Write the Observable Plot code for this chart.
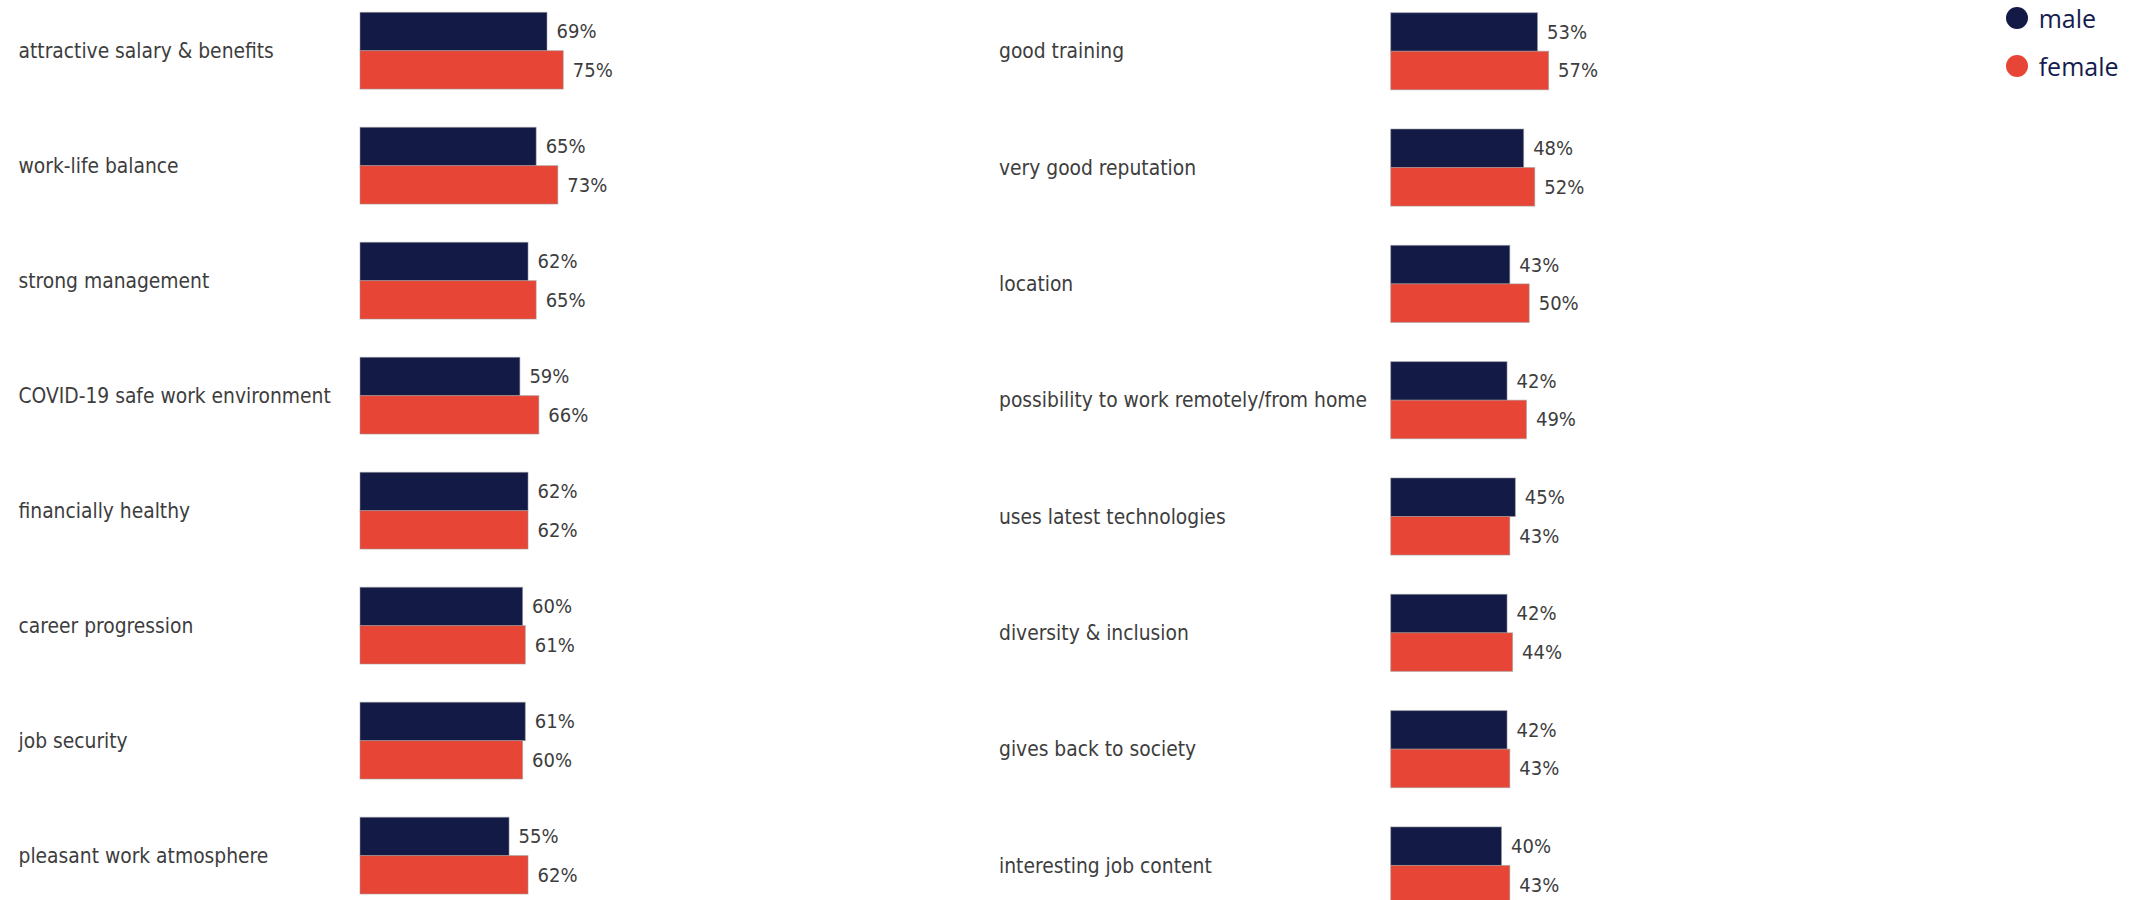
<!DOCTYPE html>
<html>
<head>
<meta charset="utf-8">
<script src="https://cdn.jsdelivr.net/npm/d3@7"></script>
<script src="https://cdn.jsdelivr.net/npm/@observablehq/plot@0.6"></script>
<style>
  html, body { margin: 0; padding: 0; background: #fff; overflow: hidden; }
  #wrap { position: relative; width: 2136px; height: 900px; overflow: hidden; background: #fff; }
  .panel { position: absolute; top: 0; }
  #legend { position: absolute; left: 0; top: 0; font-family: "Open Sans", "Noto Sans", sans-serif; font-size: 25px; color: #141b4d; }
  .item { position: absolute; display: flex; align-items: center; height: 35px; white-space: nowrap; }
  .dot { display: inline-block; width: 22px; height: 22px; border-radius: 50%; }
  .lab { margin-left: 11px; }
</style>
</head>
<body>
<div id="wrap">
  <div id="left" class="panel" style="left:0px"></div>
  <div id="right" class="panel" style="left:980px"></div>
  <div id="legend"></div>
</div>
<script>
// ---- data ----
const sexes = ["male", "female"];
const sexColors = ["#131a46", "#e74536"];

const leftCategories = [
  "attractive salary & benefits",
  "work-life balance",
  "strong management",
  "COVID-19 safe work environment",
  "financially healthy",
  "career progression",
  "job security",
  "pleasant work atmosphere"
];
const leftMale   = [69, 65, 62, 59, 62, 60, 61, 55];
const leftFemale = [75, 73, 65, 66, 62, 61, 60, 62];

const rightCategories = [
  "good training",
  "very good reputation",
  "location",
  "possibility to work remotely/from home",
  "uses latest technologies",
  "diversity & inclusion",
  "gives back to society",
  "interesting job content"
];
const rightMale   = [53, 48, 43, 42, 45, 42, 42, 40];
const rightFemale = [57, 52, 50, 49, 43, 44, 43, 43];

// ---- drawing ----
const FONT = "'DejaVu Sans Condensed', 'DejaVu Sans', sans-serif";
const TEXT = "#3d3d3d";

function panel(cats, male, female, cfg) {
  const rows = cats.flatMap((c, i) => [
    {cat: c, sex: "male", value: male[i]},
    {cat: c, sex: "female", value: female[i]}
  ]);
  const p = 1 - (2 * cfg.barH) / cfg.pitch;
  const height = Math.ceil(cfg.top + cfg.pitch * (cats.length - p));
  return Plot.plot({
    width: cfg.width,
    height,
    marginTop: cfg.top,
    marginBottom: 0,
    marginLeft: 0,
    marginRight: 0,
    x: {domain: [0, 100], range: [cfg.x0, cfg.x0 + 100 * cfg.k], axis: null},
    y: {domain: sexes, padding: 0, axis: null, round: false},
    fy: {domain: cats, paddingInner: p, paddingOuter: 0, axis: null, round: false},
    color: {domain: sexes, range: sexColors},
    style: {fontFamily: FONT, background: "transparent", overflow: "visible"},
    marks: [
      Plot.barX(rows, {x: "value", y: "sex", fy: "cat", fill: "sex",
        stroke: "#9a9a9a", strokeWidth: 1, strokeOpacity: 0.55}),
      Plot.text(rows, {x: "value", y: "sex", fy: "cat", text: d => d.value + "%",
        dx: 9, textAnchor: "start", fill: TEXT, fontSize: 20}),
      Plot.text(cats, {fy: d => d, text: d => d, frameAnchor: "left",
        dx: cfg.labelX, textAnchor: "start", fill: TEXT, fontSize: 20.8})
    ]
  });
}

document.getElementById("left").append(panel(leftCategories, leftMale, leftFemale,
  {width: 980, top: 12.3, pitch: 114.9, barH: 38.35, x0: 360, k: 2.71, labelX: 18}));
document.getElementById("right").append(panel(rightCategories, rightMale, rightFemale,
  {width: 1156, top: 12.7, pitch: 116.2, barH: 38.5, x0: 410.7, k: 2.77, labelX: 18.5}));

// ---- legend ----
const legendTop = [0, 48];
const legend = d3.select("#legend");
sexes.forEach((s, i) => {
  const it = legend.append("div").attr("class", "item")
    .style("left", "2005.7px").style("top", legendTop[i] + "px");
  it.append("span").attr("class", "dot").style("background", sexColors[i]);
  it.append("span").attr("class", "lab").text(s);
});
</script>
</body>
</html>
